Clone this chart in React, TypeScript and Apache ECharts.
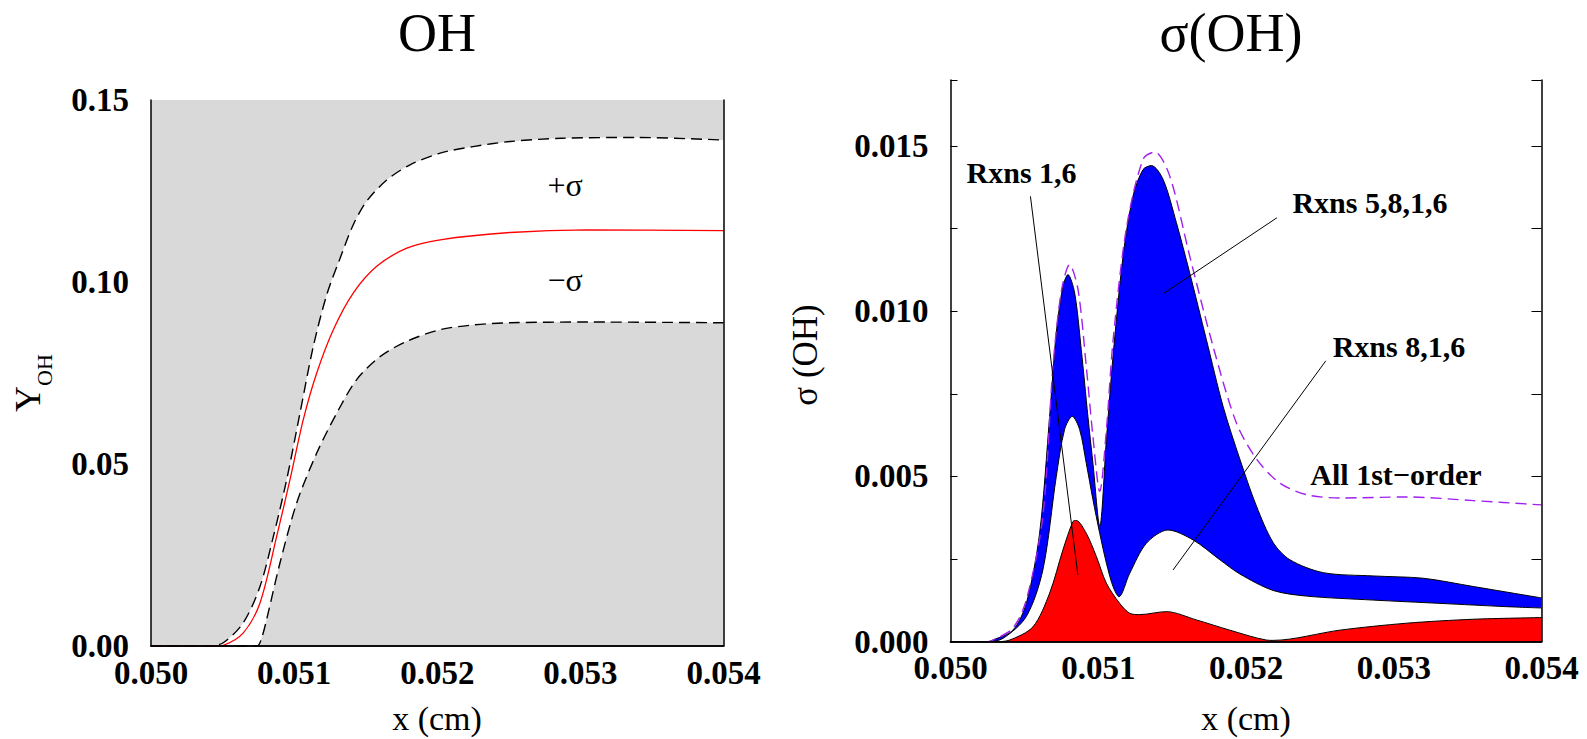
import React, { useEffect, useRef } from "react";
import * as echarts from "echarts";

// ---------- Left panel: Y_OH ----------
const ohUpper: [number, number][] = [
  [0.05, 0], [0.0504, 0], [0.050505, 0.0009], [0.050645, 0.0064], [0.050762, 0.0164],
  [0.050855, 0.0301], [0.050948, 0.0457], [0.051041, 0.064], [0.051134, 0.0823],
  [0.051228, 0.0965], [0.051321, 0.1065], [0.051414, 0.1158], [0.051507, 0.1222],
  [0.051647, 0.128], [0.05181, 0.1322], [0.05202, 0.1354], [0.05225, 0.1372],
  [0.05251, 0.1386], [0.05287, 0.1395], [0.0534, 0.1397], [0.054, 0.139],
];
const ohMean: [number, number][] = [
  [0.05, 0], [0.05045, 0], [0.050505, 0.0002], [0.050645, 0.0036], [0.050762, 0.0119],
  [0.050878, 0.0301], [0.050971, 0.0457], [0.051064, 0.0622], [0.051158, 0.075],
  [0.051274, 0.0869], [0.051414, 0.097], [0.051577, 0.1043], [0.051787, 0.1093],
  [0.05202, 0.1116], [0.05251, 0.1136], [0.05305, 0.1143], [0.054, 0.1141],
];
const ohLower: [number, number][] = [
  [0.05, 0], [0.05074, 0], [0.050775, 0.0025], [0.050808, 0.0073], [0.050901, 0.0228],
  [0.051018, 0.0393], [0.051158, 0.053], [0.051298, 0.064], [0.051437, 0.0732],
  [0.0516, 0.0795], [0.051787, 0.0837], [0.05202, 0.0869], [0.05225, 0.0882],
  [0.05251, 0.0888], [0.05305, 0.089], [0.054, 0.0888],
];

// ---------- Right panel: sigma(OH) ----------
const sigRxns5816: [number, number][] = [
  [0.05, 0], [0.05025, 0], [0.050287, 0.00005], [0.050422, 0.00035], [0.050513, 0.00116],
  [0.050603, 0.00328], [0.050671, 0.00682], [0.050716, 0.00935], [0.050761, 0.01076],
  [0.050795, 0.01111], [0.05084, 0.01056], [0.050885, 0.00884], [0.05093, 0.00682],
  [0.050964, 0.0054], [0.05101, 0.0035], [0.051055, 0.00611], [0.0511, 0.00864],
  [0.051168, 0.01167], [0.051235, 0.01348], [0.051303, 0.01429], [0.05136, 0.01441],
  [0.051439, 0.01399], [0.051529, 0.01268], [0.051619, 0.01116], [0.051732, 0.00914],
  [0.051845, 0.00712], [0.051958, 0.00553], [0.052071, 0.0041], [0.052184, 0.003],
  [0.052297, 0.00248], [0.052523, 0.00209], [0.052861, 0.00199], [0.0532, 0.00192],
  [0.053539, 0.00167], [0.05398, 0.00134], [0.054, 0.00133],
];
const sigRxns816: [number, number][] = [
  [0.05, 0], [0.05025, 0], [0.050355, 0.0001], [0.050513, 0.00076], [0.050625, 0.00217],
  [0.050716, 0.005], [0.050772, 0.00642], [0.050824, 0.00682], [0.050874, 0.00642],
  [0.050919, 0.0054], [0.050964, 0.0043], [0.05101, 0.00328], [0.051055, 0.00238],
  [0.0511, 0.00167], [0.05114, 0.00136], [0.051213, 0.00207], [0.051326, 0.00298],
  [0.051472, 0.00338], [0.051642, 0.00308], [0.051823, 0.00248], [0.051958, 0.00205],
  [0.052184, 0.00155], [0.05241, 0.00138], [0.052861, 0.00126], [0.053313, 0.00116],
  [0.053765, 0.00106], [0.054, 0.00102],
];
const sigRxns16: [number, number][] = [
  [0.05, 0], [0.0503, 0], [0.0504, 0.00005], [0.050558, 0.00045], [0.050671, 0.00147],
  [0.050761, 0.00278], [0.050829, 0.00364], [0.050851, 0.00367], [0.050919, 0.00328],
  [0.050987, 0.00258], [0.051055, 0.00177], [0.051145, 0.00116], [0.051213, 0.00086],
  [0.05128, 0.00082], [0.051461, 0.00091], [0.051664, 0.00066], [0.05189, 0.00035],
  [0.052138, 0.00005], [0.052184, 0.00004], [0.052636, 0.00035], [0.053087, 0.00056],
  [0.053539, 0.00068], [0.054, 0.00073],
];
const sigAllFirstOrder: [number, number][] = [
  [0.05, 0], [0.05025, 0], [0.050287, 0.00005], [0.05042, 0.0004], [0.050513, 0.00126],
  [0.050625, 0.00379], [0.050693, 0.0083], [0.05075, 0.0106], [0.050806, 0.01141],
  [0.050863, 0.01066], [0.050919, 0.00833], [0.050964, 0.00621], [0.05101, 0.00455],
  [0.051055, 0.0064], [0.0511, 0.0091], [0.05119, 0.0125], [0.051303, 0.0146],
  [0.051382, 0.01482], [0.051484, 0.01409], [0.051619, 0.01167], [0.051777, 0.00894],
  [0.051935, 0.00662], [0.052071, 0.00553], [0.052229, 0.0048], [0.05241, 0.00445],
  [0.052636, 0.00435], [0.053087, 0.00438], [0.053539, 0.00427], [0.054, 0.00414],
];

// leader lines (data coordinates of the right panel)
const leader16: [number, number][] = [[0.050541, 0.01348], [0.050862, 0.00202]];
const leader5816: [number, number][] = [[0.052209, 0.01283], [0.051443, 0.01054]];
const leader816: [number, number][] = [[0.05254, 0.0085], [0.051506, 0.00217]];

// annotation labels: [text, x, y]
const rightLabels: [string, number, number][] = [
  ["Rxns 1,6", 0.050481, 0.0142],
  ["Rxns 5,8,1,6", 0.052839, 0.01329],
  ["Rxns 8,1,6", 0.053035, 0.00893],
  ["All 1st\u2212order", 0.053015, 0.00505],
];
const leftLabels: [string, number, number][] = [
  ["+\u03c3", 0.052893, 0.1267],
  ["\u2212\u03c3", 0.052893, 0.1006],
];

const xMin = 0.05, xMax = 0.054, xStep = 0.001;
const leftYMax = 0.15, leftYStep = 0.05;
const rightYMax = 0.017, rightYStep = 0.005;

const FONT = "Liberation Serif";

export default function App() {
  const ref = useRef<HTMLDivElement>(null);
  useEffect(() => {
    if (!ref.current) return;
    const chart = echarts.init(ref.current, undefined, { renderer: "svg" });
    const tickLabel = { fontFamily: FONT, fontWeight: "bold" as const, fontSize: 33, color: "#000" };
    const lineAx = { show: true, lineStyle: { color: "#000", width: 1.5 } };
    const xBase = (gridIndex: number) => ({
      type: "value" as const, gridIndex, min: xMin, max: xMax, interval: xStep, z: 10,
      axisLine: lineAx, splitLine: { show: false },
    });
    const yOnMultiple = (step: number, digits: number) => (v: number) =>
      Math.abs(v / step - Math.round(v / step)) < 1e-6 ? v.toFixed(digits) : "";

    const option: any = {
      animation: false,
      backgroundColor: "#fff",
      textStyle: { fontFamily: FONT },
      grid: [
        { left: 151, top: 100, width: 572.5, height: 546, show: true, backgroundColor: "#d9d9d9", borderWidth: 0 },
        { left: 950.5, top: 80, width: 591, height: 561.7, show: false },
      ],
      xAxis: [
        { ...xBase(0), position: "bottom", axisTick: { show: false },
          axisLabel: { ...tickLabel, margin: 10, formatter: (v: number) => v.toFixed(3) } },
        { ...xBase(0), position: "top", axisTick: { show: false }, axisLabel: { show: false } },
        { ...xBase(1), position: "bottom", axisTick: { show: false },
          axisLabel: { ...tickLabel, margin: 10, formatter: (v: number) => v.toFixed(3) } },
        { ...xBase(1), position: "top", axisTick: { show: false }, axisLabel: { show: false } },
      ],
      yAxis: [
        { type: "value", gridIndex: 0, min: 0, max: leftYMax, interval: leftYStep, position: "left", z: 10,
          axisLine: lineAx, axisTick: { show: false }, splitLine: { show: false },
          axisLabel: { ...tickLabel, margin: 22, formatter: yOnMultiple(leftYStep, 2) } },
        { type: "value", gridIndex: 0, min: 0, max: leftYMax, interval: leftYStep, position: "right", z: 10,
          axisLine: lineAx, axisTick: { show: false }, splitLine: { show: false }, axisLabel: { show: false } },
        { type: "value", gridIndex: 1, min: 0, max: rightYMax, interval: rightYStep, position: "left", z: 10,
          axisLine: lineAx, splitLine: { show: false },
          axisTick: { show: true, inside: true, length: 7, lineStyle: { color: "#000", width: 1 } },
          minorTick: { show: true, splitNumber: 2, length: 7, lineStyle: { color: "#000", width: 1 } },
          axisLabel: { ...tickLabel, margin: 22, formatter: yOnMultiple(rightYStep, 3) } },
        { type: "value", gridIndex: 1, min: 0, max: rightYMax, interval: rightYStep, position: "right", z: 10,
          axisLine: lineAx, splitLine: { show: false },
          axisTick: { show: true, inside: true, length: 10, lineStyle: { color: "#000", width: 1 } },
          minorTick: { show: true, splitNumber: 2, length: 10, lineStyle: { color: "#000", width: 1 } },
          axisLabel: { show: false } },
      ],
      series: [
        { type: "line", name: "+sigma", xAxisIndex: 0, yAxisIndex: 0, data: ohUpper, smooth: 0.3, symbol: "none",
          lineStyle: { color: "#000", width: 1.4, type: [11, 6] }, areaStyle: { color: "#ffffff", opacity: 1 } },
        { type: "line", name: "-sigma", xAxisIndex: 0, yAxisIndex: 0, data: ohLower, smooth: 0.3, symbol: "none",
          lineStyle: { color: "#000", width: 1.4, type: [11, 6] }, areaStyle: { color: "#d9d9d9", opacity: 1 } },
        { type: "line", name: "Y_OH", xAxisIndex: 0, yAxisIndex: 0, data: ohMean, smooth: 0.3, symbol: "none",
          lineStyle: { color: "#ff0000", width: 1.3 } },

        { type: "line", name: "Rxns 5,8,1,6", xAxisIndex: 2, yAxisIndex: 2, data: sigRxns5816, smooth: 0.3, symbol: "none",
          lineStyle: { color: "#000", width: 1 }, areaStyle: { color: "#0000ff", opacity: 1 } },
        { type: "line", name: "Rxns 8,1,6", xAxisIndex: 2, yAxisIndex: 2, data: sigRxns816, smooth: 0.3, symbol: "none",
          lineStyle: { color: "#000", width: 1 }, areaStyle: { color: "#ffffff", opacity: 1 } },
        { type: "line", name: "Rxns 1,6", xAxisIndex: 2, yAxisIndex: 2, data: sigRxns16, smooth: 0.3, symbol: "none",
          lineStyle: { color: "#000", width: 1 }, areaStyle: { color: "#ff0000", opacity: 1 } },
        { type: "line", name: "All 1st-order", xAxisIndex: 2, yAxisIndex: 2, data: sigAllFirstOrder, smooth: 0.3, symbol: "none",
          lineStyle: { color: "#a020f0", width: 1.4, type: [11, 6] } },
        ...[leader16, leader5816, leader816].map((d) => ({
          type: "line", xAxisIndex: 2, yAxisIndex: 2, data: d, symbol: "none",
          lineStyle: { color: "#000", width: 1 }, z: 4,
        })),
      ],
    };
    chart.setOption(option);

    const txt = (text: string, x: number, y: number, fontSize: number, weight = "normal", rotation = 0) => ({
      type: "text", x, y, rotation, z: 20,
      style: { text, fontFamily: FONT, fontSize, fontWeight: weight, fill: "#000", align: "center", verticalAlign: "middle" },
    });
    const graphics: any[] = [
      txt("OH", 437, 33, 54),
      txt("\u03c3(OH)", 1231, 33, 54),
      txt("x (cm)", 437, 718, 34),
      txt("x (cm)", 1246, 718, 34),
      txt("Y", 27.5, 399, 36, "normal", Math.PI / 2),
      txt("OH", 44.5, 370, 22, "normal", Math.PI / 2),
      txt("\u03c3 (OH)", 805, 355, 35, "normal", Math.PI / 2),
    ];
    rightLabels.forEach(([t, x, y]) => {
      const p = chart.convertToPixel({ xAxisIndex: 2, yAxisIndex: 2 }, [x, y]) as number[];
      graphics.push(txt(t, p[0], p[1], 30, "bold"));
    });
    leftLabels.forEach(([t, x, y]) => {
      const p = chart.convertToPixel({ xAxisIndex: 0, yAxisIndex: 0 }, [x, y]) as number[];
      graphics.push(txt(t, p[0], p[1], 32));
    });
    chart.setOption({ graphic: graphics });

    return () => chart.dispose();
  }, []);
  return <div ref={ref} style={{ position: "absolute", left: 0, top: 0, width: 1587, height: 739 }} />;
}
